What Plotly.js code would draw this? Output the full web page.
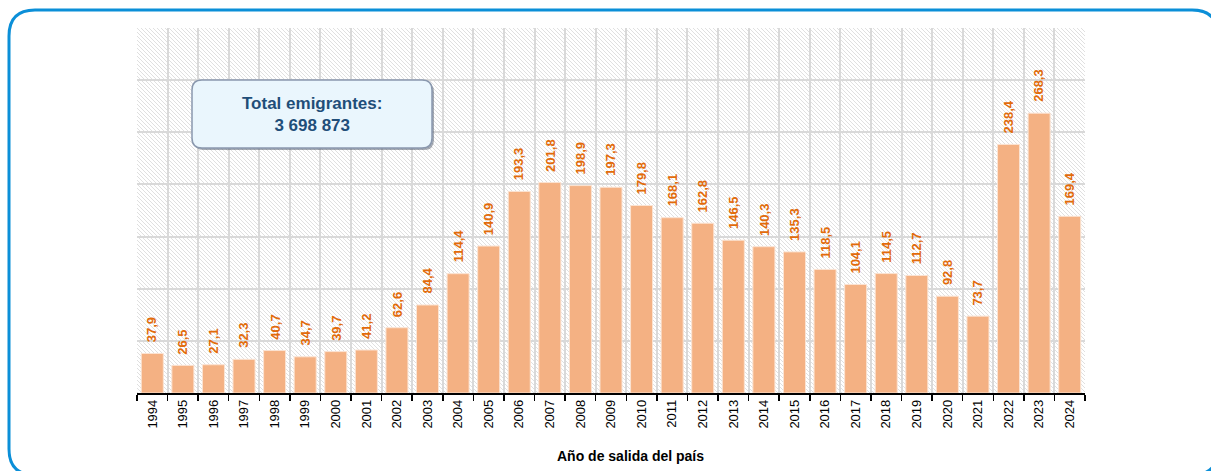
<!DOCTYPE html>
<html>
<head>
<meta charset="utf-8">
<script src="https://cdn.plot.ly/plotly-3.0.1.min.js"></script>
<style>
html,body{margin:0;padding:0;background:#fff;}
#chart{width:1211px;height:471px;}
</style>
</head>
<body>
<div id="chart"></div>
<script>
// ---- data ----
var years = ["1994","1995","1996","1997","1998","1999","2000","2001","2002","2003","2004","2005","2006","2007","2008","2009","2010","2011","2012","2013","2014","2015","2016","2017","2018","2019","2020","2021","2022","2023","2024"];
var emigrants = [37.9,26.5,27.1,32.3,40.7,34.7,39.7,41.2,62.6,84.4,114.4,140.9,193.3,201.8,198.9,197.3,179.8,168.1,162.8,146.5,140.3,135.3,118.5,104.1,114.5,112.7,92.8,73.7,238.4,268.3,169.4];
var totalLabel = "Total emigrantes:";
var totalValue = "3 698 873";
var xTitle = "Año de salida del país";

// ---- geometry helpers (pixels -> paper) ----
var W = 1211, H = 471;
var L = 137, R = 1085, T = 28, B = 393;
var PW = R - L, PH = B - T;
function px(x){ return (x - L) / PW; }
function py(y){ return (B - y) / PH; }
function roundRect(x0, y0, x1, y1, r){
  function P(x, y){ return px(x) + ',' + py(y); }
  return 'M' + P(x0 + r, y0) +
    ' L' + P(x1 - r, y0) + ' Q' + P(x1, y0) + ' ' + P(x1, y0 + r) +
    ' L' + P(x1, y1 - r) + ' Q' + P(x1, y1) + ' ' + P(x1 - r, y1) +
    ' L' + P(x0 + r, y1) + ' Q' + P(x0, y1) + ' ' + P(x0, y1 - r) +
    ' L' + P(x0, y0 + r) + ' Q' + P(x0, y0) + ' ' + P(x0 + r, y0) + ' Z';
}

// hatch background for the plot area
var hatchSvg = '<svg xmlns="http://www.w3.org/2000/svg" width="' + PW + '" height="' + PH + '" viewBox="0 0 ' + PW + ' ' + PH + '" preserveAspectRatio="none">' +
  '<defs><pattern id="h" patternUnits="userSpaceOnUse" width="4" height="4">' +
  '<path d="M-1,-1 L5,5 M-1,3 L1,5 M3,-1 L5,1" stroke="#dadada" stroke-width="0.85"/></pattern></defs>' +
  '<rect width="100%" height="100%" fill="#ffffff"/><rect width="100%" height="100%" fill="url(#h)"/></svg>';
var hatchSrc = 'data:image/svg+xml;charset=utf-8,' + encodeURIComponent(hatchSvg);

var labels = emigrants.map(function(v){ return v.toFixed(1).replace('.', ','); });

var barTrace = {
  type: 'bar',
  x: years,
  y: emigrants,
  marker: {color: '#F4B183', line: {color: '#FBE3D2', width: 1}},
  hoverinfo: 'x+y'
};

var labelFont = {family: '"Liberation Sans Narrow", "Arial Narrow", "Liberation Sans", Arial, sans-serif', size: 13, color: '#E26B0A', weight: 'bold'};
var annotations = years.map(function(yr, i){
  return {
    x: i, y: emigrants[i], xref: 'x', yref: 'y',
    text: '<b>' + labels[i] + '</b>', textangle: -90, showarrow: false,
    yanchor: 'bottom', xanchor: 'center', yshift: 9,
    font: labelFont
  };
});

annotations.push({
  xref: 'paper', yref: 'paper', x: px(312), y: py(114),
  xanchor: 'center', yanchor: 'middle', showarrow: false, align: 'center',
  text: '<b>' + totalLabel + '</b><br><b>' + totalValue + '</b>',
  font: {family: '"Liberation Sans Narrow", "Arial Narrow", "Liberation Sans", Arial, sans-serif', size: 17, color: '#1F4E79'}
});

annotations.push({
  xref: 'paper', yref: 'paper', x: px(630), y: py(456),
  xanchor: 'center', yanchor: 'middle', showarrow: false,
  text: '<b>' + xTitle + '</b>',
  font: {family: '"Liberation Sans", Arial, sans-serif', size: 14, color: '#000000'}
});

var shapes = [
  {type: 'path', xref: 'paper', yref: 'paper', path: roundRect(9, 10, 1218, 475, 26),
   line: {color: '#0B8FD8', width: 3}, fillcolor: 'rgba(0,0,0,0)', layer: 'below'},
  {type: 'path', xref: 'paper', yref: 'paper', path: roundRect(194, 82, 434, 150, 10),
   line: {width: 0}, fillcolor: 'rgba(60,70,90,0.45)', layer: 'above'},
  {type: 'path', xref: 'paper', yref: 'paper', path: roundRect(192, 80, 432, 148, 10),
   line: {color: '#8A98AE', width: 1.5}, fillcolor: '#EAF6FD', layer: 'above'}
];

var layout = {
  width: W, height: H,
  margin: {l: L, r: W - R, t: T, b: H - B, pad: 0},
  paper_bgcolor: '#ffffff',
  plot_bgcolor: 'rgba(0,0,0,0)',
  showlegend: false,
  bargap: 0.28,
  images: [{
    source: hatchSrc, xref: 'paper', yref: 'paper', x: 0, y: 1,
    sizex: 1, sizey: 1, xanchor: 'left', yanchor: 'top', sizing: 'stretch', layer: 'below'
  }],
  xaxis: {
    type: 'category',
    range: [-0.5, years.length - 0.5],
    tickson: 'boundaries',
    showgrid: true, gridcolor: '#D9D9D9', gridwidth: 2,
    showline: true, linecolor: '#000000', linewidth: 1.5,
    ticks: 'outside', ticklen: 6, tickcolor: '#000000', tickwidth: 1.5,
    tickangle: -90,
    tickfont: {family: '"Liberation Sans", Arial, sans-serif', size: 13, color: '#000000'},
    automargin: false,
    fixedrange: true
  },
  yaxis: {
    range: [0, 350], dtick: 50, tick0: 0,
    showgrid: true, gridcolor: '#D9D9D9', gridwidth: 2,
    showticklabels: false, ticks: '', showline: false, zeroline: false,
    automargin: false,
    fixedrange: true
  },
  annotations: annotations,
  shapes: shapes
};

Plotly.newPlot('chart', [barTrace], layout, {displayModeBar: false, staticPlot: true});
</script>
</body>
</html>
